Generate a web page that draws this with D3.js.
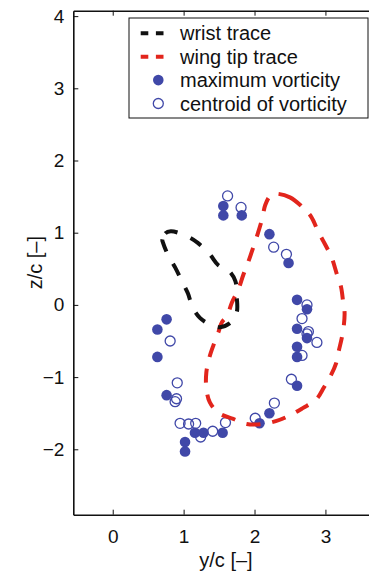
<!DOCTYPE html>
<html>
<head>
<meta charset="utf-8">
<script src="https://cdn.jsdelivr.net/npm/d3@7"></script>
<style>
  body { margin: 0; background: #fff; }
  svg text { font-family: "Liberation Sans", Arial, Helvetica, sans-serif; fill: #111; }
</style>
</head>
<body>
<div id="chart-area"></div>
<script>
// wrist trace (y/c, z/c)
var wristY = [0.70, 0.74, 0.82, 1.05, 1.20, 1.37, 1.49, 1.63, 1.73, 1.75, 1.75, 1.67, 1.51, 1.37, 1.23, 1.13, 1.06, 0.98, 0.88, 0.78, 0.71];
var wristZ = [0.90, 0.99, 1.02, 0.95, 0.86, 0.70, 0.55, 0.48, 0.33, 0.11, -0.10, -0.24, -0.31, -0.27, -0.18, -0.04, 0.16, 0.32, 0.52, 0.69, 0.86];

// wing tip trace
var tipY = [2.29, 2.50, 2.67, 2.80, 2.90, 3.00, 3.09, 3.16, 3.22, 3.25, 3.27, 3.26, 3.23, 3.19, 3.15, 3.08, 2.98, 2.87, 2.68, 2.50, 2.30, 2.11, 1.89, 1.70, 1.50, 1.37, 1.32, 1.32, 1.36, 1.42, 1.49, 1.54, 1.61, 1.68, 1.77, 1.84, 1.91, 1.98, 2.04, 2.11, 2.15, 2.22];
var tipZ = [1.54, 1.49, 1.36, 1.22, 1.01, 0.83, 0.65, 0.43, 0.25, 0.04, -0.10, -0.28, -0.46, -0.63, -0.81, -0.97, -1.14, -1.31, -1.43, -1.53, -1.61, -1.65, -1.65, -1.58, -1.50, -1.35, -1.15, -0.94, -0.74, -0.56, -0.38, -0.24, -0.16, 0.03, 0.21, 0.41, 0.59, 0.79, 0.97, 1.20, 1.38, 1.51];

// maximum vorticity
var maxY = [1.56, 1.56, 1.82, 2.21, 2.48, 2.60, 2.74, 2.60, 2.74, 2.60, 2.60, 2.60, 2.21, 2.07, 1.55, 1.28, 1.16, 1.02, 1.02, 0.76, 0.63, 0.63, 0.76];
var maxZ = [1.37, 1.24, 1.24, 0.98, 0.58, 0.07, -0.06, -0.33, -0.46, -0.58, -0.72, -1.12, -1.50, -1.64, -1.77, -1.77, -1.77, -1.90, -2.03, -1.25, -0.72, -0.34, -0.20];

// centroid of vorticity
var centY = [1.62, 1.81, 2.27, 2.45, 2.74, 2.67, 2.76, 2.74, 2.88, 2.67, 2.52, 2.28, 2.01, 1.59, 1.41, 1.24, 1.17, 1.07, 0.95, 0.90, 0.88, 0.91, 0.81];
var centZ = [1.51, 1.35, 0.80, 0.70, 0.00, -0.19, -0.37, -0.40, -0.52, -0.70, -1.03, -1.36, -1.57, -1.63, -1.75, -1.83, -1.64, -1.65, -1.64, -1.30, -1.34, -1.08, -0.50];

var xTicks = [0, 1, 2, 3];
var yTicks = [-2, -1, 0, 1, 2, 3, 4];

var legendLabels = ["wrist trace", "wing tip trace", "maximum vorticity", "centroid of vorticity"];

var blue = "#4048a8", red = "#e2251c";

var width = 369, height = 573;
var svg = d3.select("#chart-area").append("svg")
    .attr("width", width)
    .attr("height", height);

// plot box (right side runs past the picture edge, as in the figure)
var pLeft = 73.3, pRight = 378.6, pTop = 10.7, pBottom = 514.7;

var x = d3.scaleLinear().domain([-0.556, 3.75]).range([pLeft, pRight]);
var y = d3.scaleLinear().domain([-2.906, 4.075]).range([pBottom, pTop]);

function pts(a, b) { return a.map(function(d, i){ return [d, b[i]]; }); }

var line = d3.line()
    .x(function(d){ return x(d[0]); })
    .y(function(d){ return y(d[1]); })
    .curve(d3.curveCatmullRomClosed);

// markers (drawn under the traces)
svg.append("g").selectAll("circle")
    .data(pts(maxY, maxZ))
    .enter().append("circle")
    .attr("cx", function(d){ return x(d[0]); })
    .attr("cy", function(d){ return y(d[1]); })
    .attr("r", 5.3)
    .attr("fill", blue);

svg.append("g").selectAll("circle")
    .data(pts(centY, centZ))
    .enter().append("circle")
    .attr("cx", function(d){ return x(d[0]); })
    .attr("cy", function(d){ return y(d[1]); })
    .attr("r", 5)
    .attr("fill", "none")
    .attr("stroke", blue)
    .attr("stroke-width", 1.3);

// traces
svg.append("path")
    .attr("d", line(pts(tipY, tipZ)))
    .attr("fill", "none")
    .attr("stroke", red)
    .attr("stroke-width", 4)
    .attr("stroke-dasharray", "14,12");

svg.append("path")
    .attr("d", line(pts(wristY, wristZ)))
    .attr("fill", "none")
    .attr("stroke", "#111")
    .attr("stroke-width", 4)
    .attr("stroke-dasharray", "13,14");

// axes
var fmt = function(d){ return d < 0 ? "\u2212" + Math.abs(d) : String(d); };
var xAxis = svg.append("g")
    .attr("transform", "translate(0," + pBottom + ")")
    .call(d3.axisBottom(x).tickValues(xTicks).tickSize(-5).tickSizeOuter(0).tickPadding(14.5).tickFormat(fmt));
var yAxis = svg.append("g")
    .attr("transform", "translate(" + pLeft + ",0)")
    .call(d3.axisLeft(y).tickValues(yTicks).tickSize(-5).tickSizeOuter(0).tickPadding(9).tickFormat(fmt));
var xTop = svg.append("g")
    .attr("transform", "translate(0," + pTop + ")")
    .call(d3.axisTop(x).tickValues(xTicks).tickSize(-5).tickSizeOuter(0).tickFormat(""));
var yRight = svg.append("g")
    .attr("transform", "translate(" + pRight + ",0)")
    .call(d3.axisRight(y).tickValues(yTicks).tickSize(-5).tickSizeOuter(0).tickFormat(""));

[xAxis, yAxis, xTop, yRight].forEach(function(a){
    a.attr("font-family", null).attr("font-size", null);
    a.select(".domain").attr("stroke", "#111").attr("stroke-width", 1.6);
    a.selectAll(".tick line").attr("stroke", "#111").attr("stroke-width", 1);
    a.selectAll(".tick text").attr("font-size", "19px").attr("fill", "#111");
});

// axis labels
svg.append("text")
    .attr("x", (pLeft + pRight) / 2)
    .attr("y", 567)
    .attr("text-anchor", "middle")
    .attr("font-size", "20px")
    .text("y/c [\u2013]");

svg.append("text")
    .attr("transform", "translate(42," + ((pTop + pBottom) / 2) + ") rotate(-90)")
    .attr("text-anchor", "middle")
    .attr("font-size", "20px")
    .text("z/c [\u2013]");

// legend
var lg = svg.append("g");
lg.append("rect")
    .attr("x", 129).attr("y", 18)
    .attr("width", 239).attr("height", 100)
    .attr("fill", "#fff")
    .attr("stroke", "#111")
    .attr("stroke-width", 1);

var rowY = function(i){ return 33.3 + i * 23.4; };

lg.append("line")
    .attr("x1", 140.7).attr("x2", 163.5).attr("y1", rowY(0)).attr("y2", rowY(0))
    .attr("stroke", "#111").attr("stroke-width", 4).attr("stroke-dasharray", "7.6,7.6");
lg.append("line")
    .attr("x1", 140.7).attr("x2", 163.5).attr("y1", rowY(1)).attr("y2", rowY(1))
    .attr("stroke", red).attr("stroke-width", 4).attr("stroke-dasharray", "7.6,7.6");
lg.append("circle")
    .attr("cx", 158.3).attr("cy", rowY(2)).attr("r", 5.3).attr("fill", blue);
lg.append("circle")
    .attr("cx", 158.3).attr("cy", rowY(3)).attr("r", 5)
    .attr("fill", "none").attr("stroke", blue).attr("stroke-width", 1.3);

lg.selectAll("text.leg")
    .data(legendLabels)
    .enter().append("text")
    .attr("class", "leg")
    .attr("x", 180)
    .attr("y", function(d, i){ return rowY(i) + 7; })
    .attr("font-size", "20px")
    .text(function(d){ return d; });
</script>
</body>
</html>
